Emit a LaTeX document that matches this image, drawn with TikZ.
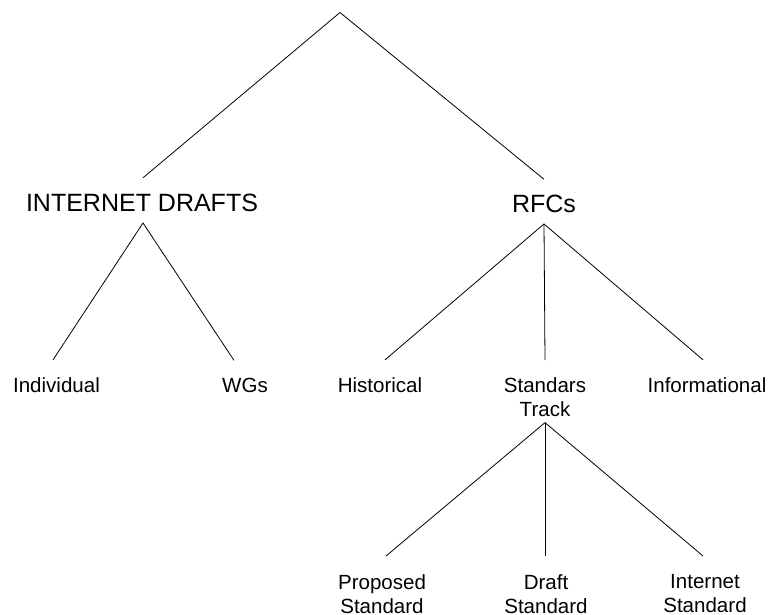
\documentclass[tikz,border=0pt]{standalone}
\usepackage{fontspec}
\setmainfont{Liberation Sans}
\usetikzlibrary{calc}

\begin{document}
\begin{tikzpicture}[x=0.75pt,y=-0.75pt,
  branch/.style={draw=black,line width=0.6pt},
  toplbl/.style={inner sep=0pt,font=\fontsize{18.75}{22}\selectfont},
  leaflbl/.style={inner sep=0pt,align=center,font=\fontsize{15.4}{18}\selectfont}]
  \useasboundingbox[fill=white] (0,0) rectangle (770,614);

  % root of the tree
  \coordinate (apex) at (340,12.5);

  % first level
  \node[toplbl,anchor=base] (id)  at (142,211.5) {INTERNET DRAFTS};
  \node[toplbl,anchor=base] (rfc) at (544,212)   {RFCs};

  % second level
  \node[leaflbl,anchor=base]  (ind)  at (56.5,392) {Individual};
  \node[leaflbl,anchor=base]  (wgs)  at (245,392)  {WGs};
  \node[leaflbl,anchor=base]  (hist) at (380,392)  {Historical};
  \node[leaflbl,anchor=north] (std)  at (545,377)  {Standars\\Track};
  \node[leaflbl,anchor=base]  (inf)  at (707,392)  {Informational};

  % standards track levels
  \node[leaflbl,anchor=north] (prop)  at (382,574) {Proposed\\Standard};
  \node[leaflbl,anchor=north] (draft) at (546,574) {Draft\\Standard};
  \node[leaflbl,anchor=north] (inet)  at (705,574) {Internet\\Standard};

  % connectors
  \draw[branch] ($(id.north)+(1,-16)$) -- (apex) -- ($(rfc.north)+(0,-15)$);

  \draw[branch] ($(ind.north)+(-3.5,-17)$) -- ($(id.base)+(1,11.5)$) -- ($(wgs.north)+(-11,-17)$);

  \draw[branch] ($(hist.north)+(5,-17)$) -- ($(rfc.base)+(0,12)$) -- ($(inf.north)+(-4,-17)$);
  \draw[branch] ($(rfc.base)+(0,12)$) -- ($(std.north)+(0,-17)$);

  \draw[branch] ($(prop.north)+(4,-18)$) -- ($(std.south)+(0,6)$) -- ($(inet.north)+(-2,-18)$);
  \draw[branch] ($(std.south)+(0,6)$) -- ($(draft.north)+(-1,-18)$);
\end{tikzpicture}
\end{document}
